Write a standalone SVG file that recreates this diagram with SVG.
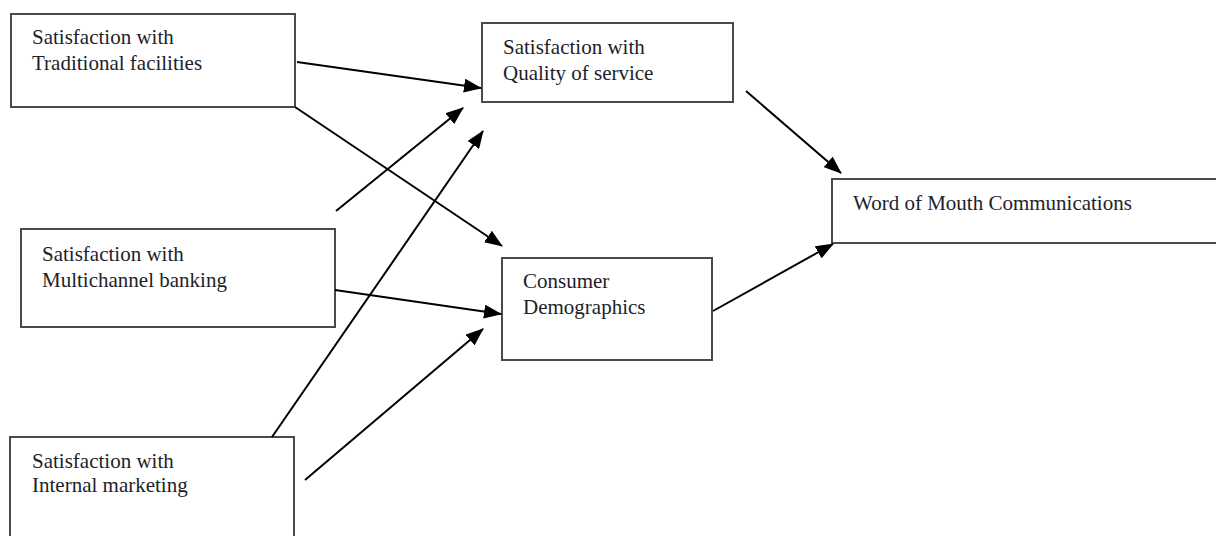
<svg xmlns="http://www.w3.org/2000/svg" width="1216" height="536" viewBox="0 0 1216 536">
<style>
.box{fill:#fff;stroke:#4a4a4a;stroke-width:2}
.lbl{font-family:"Liberation Serif","Times New Roman",serif;font-size:21px;fill:#1e1e2a}
.arr{stroke:#000;stroke-width:2;fill:none;marker-end:url(#ah)}
</style>
<defs>
<marker id="ah" markerUnits="userSpaceOnUse" markerWidth="18" markerHeight="14" viewBox="0 0 18 14" refX="17" refY="7" orient="auto">
<path d="M0,0 L18,7 L0,14 z" fill="#000"/>
</marker>
</defs>
<rect width="1216" height="536" fill="#fff"/>
<g id="n-traditional">
<rect class="box" x="11" y="14" width="284" height="93"/>
<text class="lbl" x="32" y="44">Satisfaction with</text>
<text class="lbl" x="32" y="70">Traditional facilities</text>
</g>
<g id="n-quality">
<rect class="box" x="482" y="23" width="251" height="79"/>
<text class="lbl" x="503" y="54">Satisfaction with</text>
<text class="lbl" x="503" y="80">Quality of service</text>
</g>
<g id="n-wom">
<rect class="box" x="832" y="179" width="400" height="64"/>
<text class="lbl" x="853" y="210">Word of Mouth Communications</text>
</g>
<g id="n-multichannel">
<rect class="box" x="21" y="229" width="314" height="98"/>
<text class="lbl" x="42" y="261">Satisfaction with</text>
<text class="lbl" x="42" y="287">Multichannel banking</text>
</g>
<g id="n-consumer">
<rect class="box" x="502" y="258" width="210" height="102"/>
<text class="lbl" x="523" y="288">Consumer</text>
<text class="lbl" x="523" y="314">Demographics</text>
</g>
<g id="n-internal">
<rect class="box" x="10" y="437" width="284" height="110"/>
<text class="lbl" x="32" y="468">Satisfaction with</text>
<text class="lbl" x="32" y="492">Internal marketing</text>
</g>
<g id="connectors">
<line class="arr" x1="297" y1="62" x2="481" y2="88"/>
<line class="arr" x1="295" y1="107" x2="502" y2="246"/>
<line class="arr" x1="336" y1="211" x2="463" y2="108"/>
<line class="arr" x1="272" y1="437" x2="483" y2="131"/>
<line class="arr" x1="335" y1="290" x2="501" y2="314"/>
<line class="arr" x1="305" y1="480" x2="483" y2="329"/>
<line class="arr" x1="746" y1="91" x2="841" y2="173"/>
<line class="arr" x1="713" y1="311" x2="833" y2="244"/>
</g>
</svg>
